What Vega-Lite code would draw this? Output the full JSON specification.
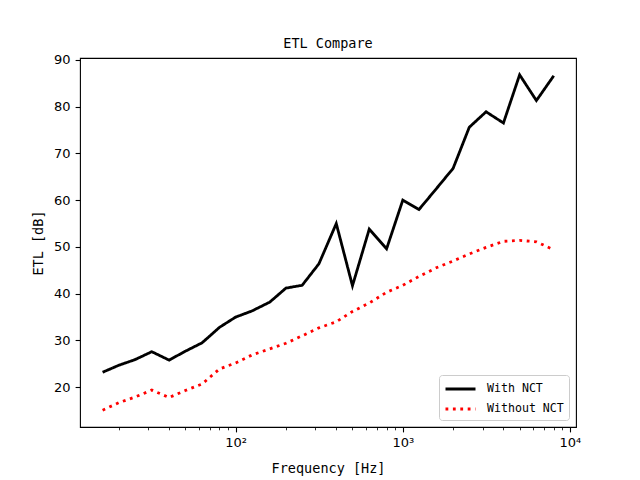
{
  "$schema": "https://vega.github.io/schema/vega-lite/v6.json",
  "width": 496,
  "height": 369,
  "autosize": {"type": "none"},
  "padding": {"left": 80, "top": 58, "right": 64, "bottom": 53},
  "background": "white",
  "config": {
    "view": {"stroke": "black", "strokeWidth": 1.1},
    "font": "DejaVu Sans Mono"
  },
  "title": {
    "text": "ETL Compare",
    "font": "DejaVu Sans Mono",
    "fontSize": 13.5,
    "fontWeight": "normal",
    "color": "black",
    "offset": 3,
    "anchor": "middle"
  },
  "data": {
    "values": [
      {"f": 16, "etl": 23.2, "series": "With NCT"},
      {"f": 20, "etl": 24.7, "series": "With NCT"},
      {"f": 25, "etl": 25.9, "series": "With NCT"},
      {"f": 31.5, "etl": 27.6, "series": "With NCT"},
      {"f": 40, "etl": 25.8, "series": "With NCT"},
      {"f": 50, "etl": 27.7, "series": "With NCT"},
      {"f": 63, "etl": 29.5, "series": "With NCT"},
      {"f": 80, "etl": 32.8, "series": "With NCT"},
      {"f": 100, "etl": 35.0, "series": "With NCT"},
      {"f": 125, "etl": 36.3, "series": "With NCT"},
      {"f": 160, "etl": 38.2, "series": "With NCT"},
      {"f": 200, "etl": 41.2, "series": "With NCT"},
      {"f": 250, "etl": 41.8, "series": "With NCT"},
      {"f": 315, "etl": 46.4, "series": "With NCT"},
      {"f": 400, "etl": 55.0, "series": "With NCT"},
      {"f": 500, "etl": 41.7, "series": "With NCT"},
      {"f": 630, "etl": 53.8, "series": "With NCT"},
      {"f": 800, "etl": 49.6, "series": "With NCT"},
      {"f": 1000, "etl": 60.0, "series": "With NCT"},
      {"f": 1250, "etl": 58.0, "series": "With NCT"},
      {"f": 1600, "etl": 62.6, "series": "With NCT"},
      {"f": 2000, "etl": 66.8, "series": "With NCT"},
      {"f": 2500, "etl": 75.6, "series": "With NCT"},
      {"f": 3150, "etl": 78.9, "series": "With NCT"},
      {"f": 4000, "etl": 76.5, "series": "With NCT"},
      {"f": 5000, "etl": 86.8, "series": "With NCT"},
      {"f": 6300, "etl": 81.3, "series": "With NCT"},
      {"f": 8000, "etl": 86.6, "series": "With NCT"},
      {"f": 16, "etl": 15.1, "series": "Without NCT"},
      {"f": 20, "etl": 16.7, "series": "Without NCT"},
      {"f": 25, "etl": 17.9, "series": "Without NCT"},
      {"f": 31.5, "etl": 19.4, "series": "Without NCT"},
      {"f": 40, "etl": 17.8, "series": "Without NCT"},
      {"f": 50, "etl": 19.3, "series": "Without NCT"},
      {"f": 63, "etl": 20.7, "series": "Without NCT"},
      {"f": 80, "etl": 23.9, "series": "Without NCT"},
      {"f": 100, "etl": 25.2, "series": "Without NCT"},
      {"f": 125, "etl": 26.9, "series": "Without NCT"},
      {"f": 160, "etl": 28.2, "series": "Without NCT"},
      {"f": 200, "etl": 29.4, "series": "Without NCT"},
      {"f": 250, "etl": 31.0, "series": "Without NCT"},
      {"f": 315, "etl": 32.7, "series": "Without NCT"},
      {"f": 400, "etl": 34.0, "series": "Without NCT"},
      {"f": 500, "etl": 36.2, "series": "Without NCT"},
      {"f": 630, "etl": 38.0, "series": "Without NCT"},
      {"f": 800, "etl": 40.3, "series": "Without NCT"},
      {"f": 1000, "etl": 41.8, "series": "Without NCT"},
      {"f": 1250, "etl": 43.7, "series": "Without NCT"},
      {"f": 1600, "etl": 45.6, "series": "Without NCT"},
      {"f": 2000, "etl": 47.0, "series": "Without NCT"},
      {"f": 2500, "etl": 48.5, "series": "Without NCT"},
      {"f": 3150, "etl": 49.9, "series": "Without NCT"},
      {"f": 4000, "etl": 51.2, "series": "Without NCT"},
      {"f": 5000, "etl": 51.4, "series": "Without NCT"},
      {"f": 6300, "etl": 51.1, "series": "Without NCT"},
      {"f": 8000, "etl": 49.4, "series": "Without NCT"}
    ]
  },
  "mark": {"type": "line", "strokeWidth": 2.8, "strokeCap": "butt", "strokeJoin": "miter"},
  "encoding": {
    "x": {
      "field": "f",
      "type": "quantitative",
      "scale": {"type": "log", "domain": [11.72, 10870], "nice": false},
      "axis": {
        "title": "Frequency [Hz]",
        "titleFont": "DejaVu Sans Mono",
        "titleFontSize": 13.5,
        "titleFontWeight": "normal",
        "titleColor": "black",
        "titlePadding": 12,
        "values": [20, 30, 40, 50, 60, 70, 80, 90, 100, 200, 300, 400, 500, 600, 700, 800, 900, 1000, 2000, 3000, 4000, 5000, 6000, 7000, 8000, 9000, 10000],
        "labelExpr": "datum.value == 100 ? '10²' : datum.value == 1000 ? '10³' : datum.value == 10000 ? '10⁴' : ''",
        "labelFont": "DejaVu Sans",
        "labelFontSize": 13,
        "labelColor": "black",
        "labelPadding": 5,
        "labelFlush": false,
        "labelOverlap": false,
        "grid": false,
        "domain": false,
        "tickColor": "black",
        "tickWidth": {"condition": {"test": "datum.value == 100 || datum.value == 1000 || datum.value == 10000", "value": 1.1}, "value": 0.8},
        "tickSize": {"condition": {"test": "datum.value == 100 || datum.value == 1000 || datum.value == 10000", "value": 4.9}, "value": 2.8}
      }
    },
    "y": {
      "field": "etl",
      "type": "quantitative",
      "scale": {"domain": [11.5, 90.4], "nice": false, "zero": false},
      "axis": {
        "title": "ETL [dB]",
        "titleFont": "DejaVu Sans Mono",
        "titleFontSize": 13.5,
        "titleFontWeight": "normal",
        "titleColor": "black",
        "titlePadding": 8,
        "values": [20, 30, 40, 50, 60, 70, 80, 90],
        "labelFont": "DejaVu Sans",
        "labelFontSize": 13,
        "labelColor": "black",
        "labelPadding": 5,
        "labelFlush": false,
        "grid": false,
        "domain": false,
        "tickColor": "black",
        "tickWidth": 1.1,
        "tickSize": 4.9
      }
    },
    "color": {
      "field": "series",
      "type": "nominal",
      "scale": {"domain": ["With NCT", "Without NCT"], "range": ["black", "red"]},
      "legend": {
        "title": null,
        "orient": "bottom-right",
        "offset": 7,
        "symbolType": "M-1,0H3",
        "symbolSize": 225,
        "symbolStrokeWidth": 2.8,
        "labelFont": "DejaVu Sans Mono",
        "labelFontSize": 11.6,
        "labelColor": "black",
        "labelOffset": 25,
        "rowPadding": 5,
        "padding": 5,
        "fillColor": "rgba(255,255,255,0.8)",
        "strokeColor": "#cccccc",
        "cornerRadius": 3
      }
    },
    "strokeDash": {
      "field": "series",
      "type": "nominal",
      "scale": {"domain": ["With NCT", "Without NCT"], "range": [[1, 0], [2.8, 4.6]]},
      "legend": null
    }
  }
}
